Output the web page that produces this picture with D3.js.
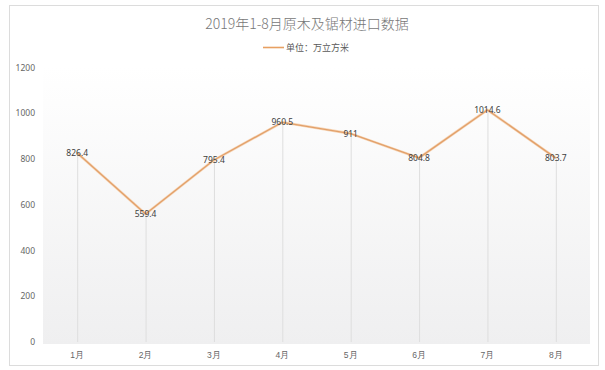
<!DOCTYPE html>
<html>
<head>
<meta charset="utf-8">
<script src="https://cdn.jsdelivr.net/npm/d3@7"></script>
<style>
  html, body { margin: 0; padding: 0; background: #fff; }
  svg { display: block; font-family: "Noto Sans CJK SC", "DejaVu Sans", sans-serif; }
</style>
</head>
<body>
<div id="chart"></div>
<script>
// 数据
const months = ['1月', '2月', '3月', '4月', '5月', '6月', '7月', '8月'];
const volumes = [826.4, 559.4, 795.4, 960.5, 911, 804.8, 1014.6, 803.7];
const yTicks = [0, 200, 400, 600, 800, 1000, 1200];
const titleText = '2019年1-8月原木及锯材进口数据';
const legendText = '单位：万立方米';

function renderChart() {
    const width = 605, height = 370;
    const plot = { left: 43, right: 590, top: 67.5, bottom: 342 };

    const svg = d3.select('#chart')
        .append('svg')
        .attr('width', width)
        .attr('height', height);

    // 背景渐变
    const defs = svg.append('defs');
    const grad = defs.append('linearGradient')
        .attr('id', 'bg')
        .attr('x1', 0).attr('y1', 0).attr('x2', 0).attr('y2', 1);
    grad.append('stop').attr('offset', '0%').attr('stop-color', '#ffffff');
    grad.append('stop').attr('offset', '100%').attr('stop-color', '#efeff0');

    // 外框
    svg.append('rect')
        .attr('x', 9.5).attr('y', 5.5)
        .attr('width', 589).attr('height', 360)
        .attr('fill', '#fff')
        .attr('stroke', '#dcdcdc');

    const x = d3.scaleBand()
        .domain(months)
        .range([plot.left, plot.right]);

    const y = d3.scaleLinear()
        .domain([0, 1200])
        .range([plot.bottom, plot.top]);

    // 绘图区
    svg.append('rect')
        .attr('x', plot.left)
        .attr('y', plot.top)
        .attr('width', plot.right - plot.left)
        .attr('height', plot.bottom + 2 - plot.top)
        .attr('fill', 'url(#bg)');

    // 标题
    svg.append('text')
        .attr('x', 307).attr('y', 29)
        .attr('text-anchor', 'middle')
        .attr('font-size', 14)
        .attr('font-weight', 300)
        .attr('fill', '#777')
        .text(titleText);

    // 图例
    svg.append('line')
        .attr('x1', 263).attr('x2', 284)
        .attr('y1', 47.5).attr('y2', 47.5)
        .attr('stroke', '#e8a062')
        .attr('stroke-width', 1.6);
    svg.append('text')
        .attr('x', 286).attr('y', 51)
        .attr('font-size', 9)
        .attr('fill', '#595959')
        .text(legendText);

    // Y轴
    const yAxis = svg.append('g')
        .attr('transform', `translate(${plot.left - 8},0)`)
        .call(d3.axisLeft(y).tickValues(yTicks).tickFormat(d3.format('d')).tickSize(0).tickPadding(0));
    yAxis.select('.domain').remove();
    yAxis.selectAll('text')
        .attr('font-size', 8.5)
        .attr('fill', '#666')
        .attr('font-family', '"Noto Sans", "DejaVu Sans", sans-serif');

    // X轴
    const xAxis = svg.append('g')
        .attr('transform', `translate(0,${plot.bottom + 9})`)
        .call(d3.axisBottom(x).tickSize(0).tickPadding(0));
    xAxis.select('.domain').remove();
    xAxis.selectAll('text')
        .attr('font-size', 8.5)
        .attr('fill', '#666')
        .attr('dy', '0.8em');

    const cx = d => x(d) + x.bandwidth() / 2;

    // 垂直线
    svg.append('g')
        .selectAll('line')
        .data(months)
        .join('line')
        .attr('x1', d => cx(d) + 0.5)
        .attr('x2', d => cx(d) + 0.5)
        .attr('y1', (d, i) => y(volumes[i]))
        .attr('y2', plot.bottom)
        .attr('stroke', '#dedede')
        .attr('stroke-width', 1);

    // 折线
    const line = d3.line()
        .x((d, i) => cx(months[i]))
        .y(d => y(d));

    svg.append('path')
        .datum(volumes)
        .attr('fill', 'none')
        .attr('stroke', '#f6d6b8')
        .attr('stroke-width', 2.6)
        .attr('stroke-linejoin', 'round')
        .attr('d', line);
    svg.append('path')
        .datum(volumes)
        .attr('fill', 'none')
        .attr('stroke', '#e2a06a')
        .attr('stroke-width', 1.3)
        .attr('stroke-linejoin', 'round')
        .attr('d', line);

    // 数据标签
    svg.append('g')
        .selectAll('text')
        .data(volumes)
        .join('text')
        .attr('x', (d, i) => cx(months[i]))
        .attr('y', d => y(d))
        .attr('dy', '0.35em')
        .attr('text-anchor', 'middle')
        .attr('font-size', 8.5)
        .attr('fill', '#404040')
        .attr('font-family', '"Noto Sans", "DejaVu Sans", sans-serif')
        .text(d => d);
}

renderChart();
</script>
</body>
</html>
